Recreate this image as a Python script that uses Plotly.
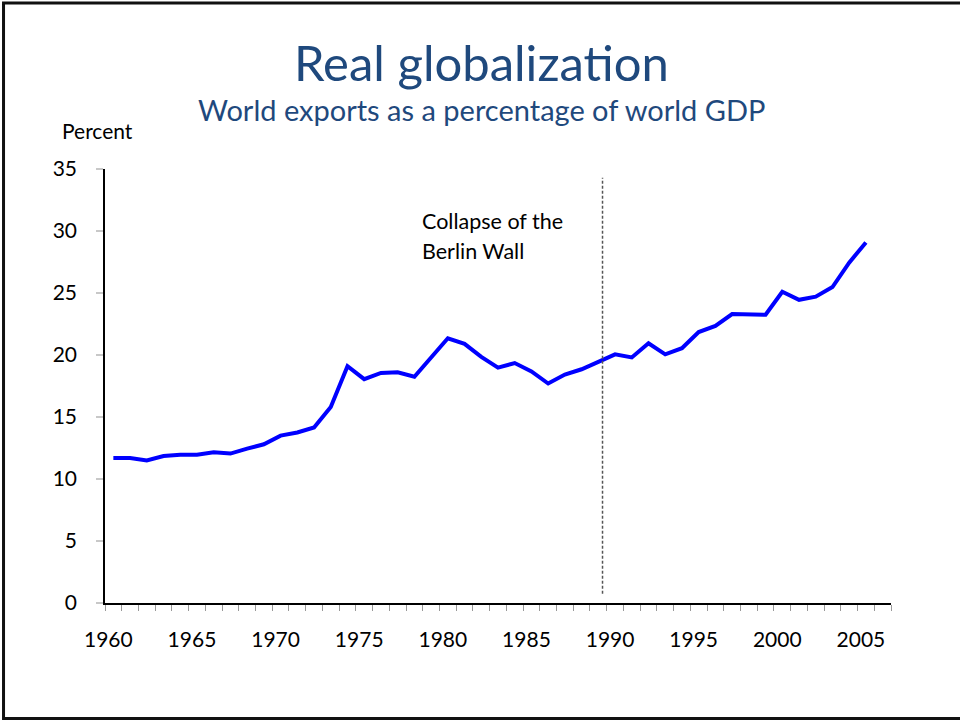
import plotly.graph_objects as go

# ---- data ----
years = list(range(1960, 2006))
exports_pct = [11.7, 11.7, 11.5, 11.85, 11.95, 11.95, 12.15, 12.05, 12.45, 12.8,
               13.5, 13.75, 14.15, 15.8, 19.1, 18.05, 18.55, 18.6, 18.25, 19.8,
               21.35, 20.9, 19.85, 18.98, 19.35, 18.68, 17.7, 18.42, 18.85, 19.45,
               20.05, 19.8, 20.95, 20.05, 20.55, 21.85, 22.35, 23.3, 23.25, 23.25,
               25.1, 24.45, 24.7, 25.48, 27.45, 29.08]
x_tick_labels = ["1960", "1965", "1970", "1975", "1980", "1985", "1990", "1995", "2000", "2005"]
x_tick_years = [1960, 1965, 1970, 1975, 1980, 1985, 1990, 1995, 2000, 2005]
y_tick_values = [0, 5, 10, 15, 20, 25, 30, 35]
berlin_wall_x = 1989.25
berlin_line_y = [0.75, 34.3]

FONT = "Lato"
BLUE_TEXT = "#1F497D"

fig = go.Figure()
fig.add_trace(go.Scatter(
    x=years, y=exports_pct, mode="lines",
    line=dict(color="#0000FF", width=4),
    showlegend=False, hoverinfo="x+y",
))

fig.add_shape(type="line", xref="x", yref="y",
              x0=berlin_wall_x, x1=berlin_wall_x,
              y0=berlin_line_y[0], y1=berlin_line_y[1],
              line=dict(color="#555555", width=1.5, dash="3px,2px"))

# outer frame (left, top, bottom; right edge beyond the page)
fig.add_shape(type="rect", xref="paper", yref="paper",
              x0=-0.1291, x1=1.2, y0=-0.2661, y1=1.3825,
              line=dict(color="#111111", width=3), layer="above")

annotations = [
    dict(text="Real globalization", xref="paper", yref="paper",
         x=0.4796, y=1.2465, xanchor="center", yanchor="middle", showarrow=False,
         font=dict(family=FONT, size=49, color=BLUE_TEXT)),
    dict(text="World exports as a percentage of world GDP", xref="paper", yref="paper",
         x=0.4796, y=1.1375, xanchor="center", yanchor="middle", showarrow=False,
         font=dict(family=FONT, size=29, color=BLUE_TEXT)),
    dict(text="Percent", xref="paper", yref="paper",
         x=-0.0573, y=1.0876, xanchor="left", yanchor="middle", showarrow=False,
         font=dict(family=FONT, size=21, color="#000000")),
    dict(text="Collapse of the", xref="x", yref="y",
         x=1978.34, y=30.8, xanchor="left", yanchor="middle", showarrow=False,
         font=dict(family=FONT, size=21.5, color="#000000")),
    dict(text="Berlin Wall", xref="x", yref="y",
         x=1978.34, y=28.4, xanchor="left", yanchor="middle", showarrow=False,
         font=dict(family=FONT, size=21.5, color="#000000")),
]

fig.update_layout(
    width=960, height=721,
    margin=dict(l=105, r=69, t=169, b=118, pad=0),
    paper_bgcolor="white", plot_bgcolor="white",
    font=dict(family=FONT, size=20, color="#000000"),
    annotations=annotations,
    showlegend=False,
)

fig.update_xaxes(
    range=[1959.5, 2006.5],
    tickmode="array", tickvals=x_tick_years, ticktext=x_tick_labels,
    ticks="", showgrid=False, zeroline=False,
    showline=True, linecolor="#000000", linewidth=1.5,
    ticklabelstandoff=17, ticklabelshift=-5,
    tickfont=dict(family=FONT, size=21, color="#000000"),
    minor=dict(tick0=1959.5, dtick=1, ticks="outside", ticklen=6,
               tickcolor="#999999", tickwidth=1, showgrid=False),
)
fig.update_yaxes(
    range=[0, 35],
    tickmode="array", tickvals=y_tick_values,
    ticks="outside", ticklen=7, tickcolor="#c8c8c8", tickwidth=2,
    showgrid=False, zeroline=False,
    showline=True, linecolor="#000000", linewidth=1.5,
    ticklabelstandoff=15,
    tickfont=dict(family=FONT, size=21, color="#000000"),
)

fig.write_html(
    "out.html",
    config={"displayModeBar": False},
    post_script="document.body.style.margin='0';document.body.style.overflow='hidden';",
)
